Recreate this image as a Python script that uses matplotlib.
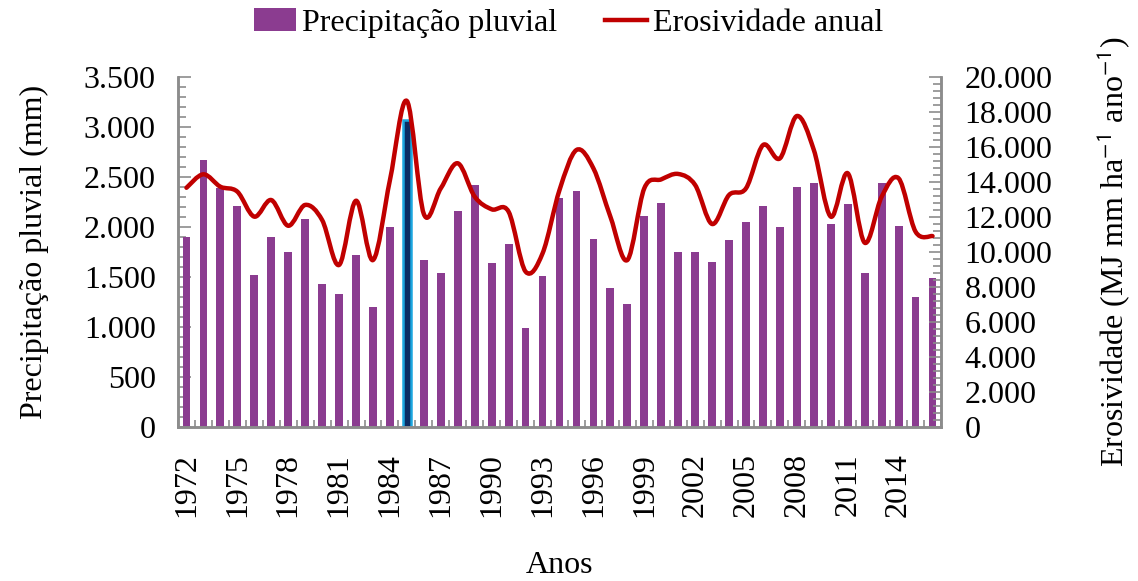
import matplotlib
matplotlib.use('Agg')
import matplotlib.pyplot as plt
from matplotlib.path import Path
from matplotlib.patches import PathPatch, Patch
from matplotlib.lines import Line2D
from matplotlib.ticker import FuncFormatter, MultipleLocator
import numpy as np

# data
anos = list(range(1972, 2017))
precipitacao = [1900, 2673, 2393, 2213, 1520, 1900, 1750, 2080, 1430, 1330,
                1720, 1200, 2000, 3067, 1670, 1540, 2160, 2420, 1640, 1830,
                990, 1510, 2293, 2360, 1880, 1390, 1230, 2113, 2240, 1750,
                1750, 1650, 1870, 2050, 2210, 2000, 2400, 2440, 2030, 2230,
                1540, 2440, 2010, 1300, 1490]
erosividade = [13670, 14440, 13730, 13450, 12020, 12970, 11500, 12690, 11830, 9260,
               12930, 9540, 14110, 18630, 12170, 13640, 15070, 13160, 12440, 12300,
               8880, 9920, 13540, 15830, 14780, 12020, 9540, 13640, 14150, 14460,
               13830, 11600, 13260, 13640, 16110, 15350, 17770, 15830, 12020, 14500,
               10530, 13160, 14210, 11160, 10910]
destaque = 1985

roxo = '#8B3C90'
vermelho = '#C00000'
cinza = '#8C8C8C'

plt.rcParams['font.family'] = ['Liberation Serif', 'DejaVu Serif']
plt.rcParams['font.size'] = 23
plt.rcParams['mathtext.fontset'] = 'stix'

def milhar(v, pos):
    return '{:,.0f}'.format(v).replace(',', '.')

fig = plt.figure(figsize=(11.38, 5.81), dpi=100)
ax = fig.add_axes([0.1564, 0.265, 0.6705, 0.6025])
ax2 = ax.twinx()

x = np.arange(len(anos))
cores = [roxo] * len(anos)
bordas = ['none'] * len(anos)
cores[anos.index(destaque)] = '#0B2B63'
bordas[anos.index(destaque)] = '#1BA6E0'
ax.bar(x, precipitacao, width=0.46, color=cores, edgecolor=bordas, linewidth=1.8, zorder=2)

# smoothed line like Excel (Catmull-Rom -> cubic bezier)
pts = list(zip(x.astype(float), erosividade))
verts = [pts[0]]
codes = [Path.MOVETO]
n = len(pts)
for i in range(n - 1):
    p0 = pts[i - 1] if i > 0 else pts[i]
    p1 = pts[i]
    p2 = pts[i + 1]
    p3 = pts[i + 2] if i + 2 < n else pts[i + 1]
    c1 = (p1[0] + (p2[0] - p0[0]) / 6, p1[1] + (p2[1] - p0[1]) / 6)
    c2 = (p2[0] - (p3[0] - p1[0]) / 6, p2[1] - (p3[1] - p1[1]) / 6)
    verts += [c1, c2, p2]
    codes += [Path.CURVE4] * 3
ax2.add_patch(PathPatch(Path(verts, codes), fill=False, edgecolor=vermelho,
                        linewidth=3.2, capstyle='round', joinstyle='round', zorder=3))

ax.set_xlim(-0.5, len(anos) - 0.5)
ax.set_ylim(0, 3500)
ax2.set_ylim(0, 20000)

ax.set_xticks(x[::3])
ax.set_xticklabels([str(a) for a in anos[::3]], rotation=90)
ax.set_xticks(np.arange(-0.5, len(anos), 1), minor=True)
ax.tick_params(axis='x', which='major', length=0, pad=19)
ax.tick_params(axis='x', which='minor', direction='in', length=5, color=cinza, width=1.2)

ax.yaxis.set_major_locator(MultipleLocator(500))
ax.yaxis.set_minor_locator(MultipleLocator(100))
ax.yaxis.set_major_formatter(FuncFormatter(milhar))
ax.tick_params(axis='y', which='major', direction='in', length=9, color=cinza, width=1.2, pad=16)
ax.tick_params(axis='y', which='minor', direction='in', length=6, color=cinza, width=1.2)

ax2.yaxis.set_major_locator(MultipleLocator(2000))
ax2.yaxis.set_minor_locator(MultipleLocator(400))
ax2.yaxis.set_major_formatter(FuncFormatter(milhar))
ax2.tick_params(axis='y', which='major', direction='in', length=9, color=cinza, width=1.2, pad=17)
ax2.tick_params(axis='y', which='minor', direction='in', length=6, color=cinza, width=1.2)

for a in (ax, ax2):
    a.spines['top'].set_visible(False)
    for s in ('left', 'right', 'bottom'):
        a.spines[s].set_color(cinza)
        a.spines[s].set_linewidth(1.8)

ax.set_xlabel('Anos', labelpad=24)
ax.set_ylabel('Precipitação pluvial (mm)', labelpad=25)
ax2.set_ylabel('Erosividade (MJ mm ha$^{\\mathsf{-1}}$ ano$^{\\mathsf{-1}}$)', labelpad=30)

handles = [Patch(facecolor=roxo, edgecolor='none'),
           Line2D([0], [0], color=vermelho, linewidth=3.2)]
fig.legend(handles, ['Precipitação pluvial', 'Erosividade anual'], loc='upper center',
           bbox_to_anchor=(0.5, 1.035), ncol=2, frameon=False, handlelength=1.3,
           handletextpad=0.2, columnspacing=1.5, fontsize=23)

fig.savefig('out.png', dpi=100)
